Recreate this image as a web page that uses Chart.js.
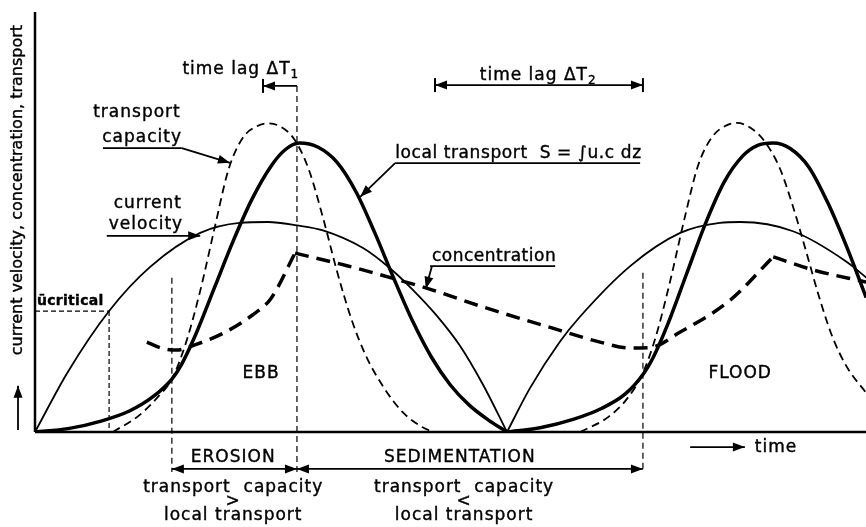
<!DOCTYPE html>
<html>
<head>
<meta charset="utf-8">
<script src="https://cdn.jsdelivr.net/npm/chart.js@4.4.1/dist/chart.umd.min.js"></script>
<style>
  html, body { margin: 0; padding: 0; background: #fff; }
  canvas { display: block; }
</style>
</head>
<body>
<canvas id="grafico" width="866" height="527"></canvas>
<script>
// tiempo: una marea (ebb) = 100 unidades; valores en escala relativa 0-100
const velocityEbb = [[0,0],[6.8,14.0],[15.7,28.8],[24.4,39.3],[35.0,47.4],[43.4,49.8],[49.4,50.0],[55.5,49.2],[61.0,48.0],[69.5,43.8],[75.2,39.0],[80.1,33.8],[85.2,27.6],[90.0,20.6],[94.9,11.3],[100,0]];
const velocityFlood = [[100,0],[104.9,10.5],[111.2,21.5],[115.5,27.5],[126.1,39.5],[136.7,47.4],[145.1,49.8],[149.4,50.0],[160.6,47.8],[172.0,40.5],[176.1,36.8]];

const capacityEbb = [[16.5,0],[22,3.9],[26,8.3],[29,12.6],[32,21.3],[35,33.6],[38,48.3],[41,62.5],[44,70.0],[47,72.8],[49.2,73.5],[52,72.7],[55,69.6],[58,62.5],[61,51.1],[64,38.2],[67,27.0],[70,18.4],[74,10.4],[78,4.6],[82,1.2],[84.3,0]];
const capacityFlood = [[115.5,0],[121.5,3.6],[125.5,8.0],[128.8,14.1],[131.5,22.6],[134.5,35.6],[137.5,50.3],[140.5,63.5],[143.5,70.3],[146.5,73.0],[148.7,73.6],[151.5,72.5],[154.5,69.3],[157.8,62.8],[160.5,54.0],[163.5,42.5],[166.3,31.5],[169,22.5],[172,15.5],[176.1,9.3]];

const transportEbb = [[0,0],[7,0.8],[14,2.6],[20,5.0],[25,8.4],[29,12.6],[31,16.0],[34,23.1],[38,34.3],[42,45.5],[46,55.5],[50,63.3],[53,67.2],[56,68.8],[60,67.8],[64,64.2],[68,57.2],[72,47.4],[76,36.6],[80,26.4],[84,17.8],[88,11.2],[92,6.4],[96,2.9],[100,0]];
const transportFlood = [[100,0],[107,1.0],[114,3.0],[120,5.6],[125,9.0],[129,14.0],[131,17.8],[134,25.5],[138,37.5],[142,49.5],[146,59.5],[150,65.8],[153,68.2],[156.4,68.8],[160,67.5],[164,63.0],[168,54.5],[172,44.0],[176.1,32.0]];

const concentrationRise = [[23.7,21.4],[27,19.9],[30,19.5],[34,20.8],[40,23.6],[46,27.8],[50,31.8],[55.1,42.6]];
const concentrationFall = [[55.1,42.6],[66.1,39.6],[76.7,36.3],[83.1,34.2],[94.3,30.0],[111.2,24.2],[119.7,21.4],[126.1,20.0],[130.3,20.1],[136.7,23.8],[147.3,31.4],[156.4,41.7]];
const concentrationEnd = [[156.4,41.7],[164.8,38.6],[176.1,35.7]];

// momentos y niveles marcados
const uCritical = 28.8;
const tCritical = 15.7;
const tErosionStart = 29.0;
const tTransportPeak = 55.5;
const tCapacityPeak = 48.3;
const tCapacityZero = 84.75;
const tSedimentationEnd = 128.8;
const tMax = 176.06;

const FONT = "'DejaVu Sans', sans-serif";
const toXY = arr => arr.map(([x, y]) => ({ x, y }));

function serie(data, width, dash) {
  return {
    data: toXY(data),
    borderColor: "#000",
    borderWidth: width,
    borderDash: dash || [],
    pointRadius: 0,
    fill: false,
    cubicInterpolationMode: "monotone"
  };
}

const anotaciones = {
  id: "anotaciones",
  afterDatasetsDraw(chart) {
    const ctx = chart.ctx;
    const X = t => chart.scales.x.getPixelForValue(t);
    const Y = v => chart.scales.y.getPixelForValue(v);
    ctx.save();
    ctx.fillStyle = "#000";
    ctx.strokeStyle = "#000";
    ctx.lineCap = "butt";

    function line(t1, v1, t2, v2, w, dash) {
      ctx.beginPath();
      ctx.lineWidth = w;
      ctx.setLineDash(dash || []);
      ctx.moveTo(X(t1), Y(v1));
      ctx.lineTo(X(t2), Y(v2));
      ctx.stroke();
      ctx.setLineDash([]);
    }
    function head(x1, y1, x2, y2) {
      const a = Math.atan2(y2 - y1, x2 - x1), len = 12, h = 4.5;
      ctx.beginPath();
      ctx.moveTo(x2, y2);
      ctx.lineTo(x2 - len * Math.cos(a) + h * Math.sin(a), y2 - len * Math.sin(a) - h * Math.cos(a));
      ctx.lineTo(x2 - len * Math.cos(a) - h * Math.sin(a), y2 - len * Math.sin(a) + h * Math.cos(a));
      ctx.closePath();
      ctx.fill();
    }
    function arrow(t1, v1, t2, v2, both) {
      line(t1, v1, t2, v2, 1.8);
      head(X(t1), Y(v1), X(t2), Y(v2));
      if (both) head(X(t2), Y(v2), X(t1), Y(v1));
    }
    function bar(t, v) {
      ctx.beginPath();
      ctx.lineWidth = 2;
      ctx.moveTo(X(t), Y(v) - 7);
      ctx.lineTo(X(t), Y(v) + 7);
      ctx.stroke();
    }
    // texto con trazo fino para imitar el rotulado grueso
    function paint(str, x, y) {
      ctx.fillText(str, x, y);
      ctx.lineWidth = 0.4;
      ctx.strokeText(str, x, y);
    }
    function text(str, t, v, align, size, spacing, weight) {
      ctx.font = (weight || "normal") + " " + (size || 17) + "px " + FONT;
      ctx.letterSpacing = (spacing === undefined ? 1 : spacing) + "px";
      ctx.textAlign = align || "center";
      ctx.textBaseline = "middle";
      paint(str, X(t), Y(v));
    }
    function textSub(main, sub, t, v) {
      ctx.letterSpacing = "1px";
      ctx.font = "17px " + FONT;
      const w1 = ctx.measureText(main).width;
      ctx.font = "12px " + FONT;
      const w2 = ctx.measureText(sub).width;
      const x0 = X(t) - (w1 + w2) / 2;
      ctx.textAlign = "left";
      ctx.textBaseline = "middle";
      ctx.font = "17px " + FONT;
      paint(main, x0, Y(v));
      ctx.font = "12px " + FONT;
      paint(sub, x0 + w1, Y(v) + 5);
    }

    // ejes
    line(0, 0, 0, 100, 2.5);
    line(0, 0, tMax, 0, 2.5);

    // u crítica
    line(0, uCritical, tCritical, uCritical, 1.2, [5, 3]);
    line(tCritical, uCritical, tCritical, 0, 1.2, [5, 3]);
    text("ūcritical", 0.4, uCritical + 2.4, "left", 14, 0.3, "bold");

    // líneas verticales
    line(tErosionStart, 36.7, tErosionStart, -9.5, 1.2, [6, 4]);
    line(tTransportPeak, 82.4, tTransportPeak, -9.5, 1.2, [6, 4]);
    line(tSedimentationEnd, 37.9, tSedimentationEnd, -9.5, 1.2, [6, 4]);

    // desfases
    textSub("time lag ΔT", "1", 43.6, 86.2);
    arrow(tTransportPeak, 82.4, tCapacityPeak, 82.4);
    bar(tCapacityPeak, 82.4);
    textSub("time lag ΔT", "2", 106.6, 84.8);
    arrow(tCapacityZero, 82.6, tSedimentationEnd, 82.6, true);
    bar(tCapacityZero, 82.6);
    bar(tSedimentationEnd, 82.6);

    // etiquetas de curvas
    text("transport", 21.6, 76.0);
    text("capacity", 22.7, 70.2);
    line(14.4, 67.6, 31.1, 67.6, 1.8);
    arrow(31.1, 67.6, 41.3, 64.1);

    text("current", 23.9, 54.5);
    text("velocity", 23.5, 49.3);
    arrow(15.2, 46.7, 35.0, 46.7);

    text("local transport  S = ∫u.c dz", 76.3, 66.4, "left", 17, 0.6);
    line(76.3, 64.0, 128.2, 64.0, 1.8);
    arrow(76.3, 64.0, 68.9, 56.0);

    text("concentration", 84.1, 41.7, "left", 17, 0.5);
    line(83.7, 39.5, 110.2, 39.5, 1.8);
    arrow(84.1, 39.5, 82.8, 34.1);

    text("EBB", 47.9, 14.0);
    text("FLOOD", 149.4, 14.0);

    // eje de tiempo
    arrow(138.8, -3.6, 150.4, -3.6);
    text("time", 152.5, -3.6, "left");

    // erosión / sedimentación
    arrow(tErosionStart, -8.8, tTransportPeak, -8.8, true);
    arrow(tTransportPeak, -8.8, tSedimentationEnd, -8.8, true);
    text("EROSION", 42.0, -6.0);
    text("SEDIMENTATION", 90.0, -6.0);
    text("transport  capacity", 42.0, -13.3);
    text(">", 42.0, -16.6);
    text("local transport", 42.0, -20.0);
    text("transport  capacity", 90.9, -13.3);
    text("<", 90.9, -16.6);
    text("local transport", 90.9, -20.0);

    // eje y: título y flecha
    arrow(-3.6, 0.5, -3.6, 11.0);
    ctx.save();
    ctx.translate(X(-3.6), Y(57.6));
    ctx.rotate(-Math.PI / 2);
    ctx.font = "16px " + FONT;
    ctx.letterSpacing = "0px";
    ctx.textAlign = "center";
    ctx.textBaseline = "middle";
    paint("current velocity, concentration, transport", 0, 0);
    ctx.restore();

    ctx.restore();
  }
};

new Chart(document.getElementById("grafico"), {
  type: "line",
  data: {
    datasets: [
      serie(velocityEbb, 1.8),
      serie(velocityFlood, 1.8),
      serie(capacityEbb, 1.8, [8, 5]),
      serie(capacityFlood, 1.8, [8, 5]),
      serie(transportEbb, 3.5),
      serie(transportFlood, 3.5),
      serie(concentrationRise, 3.5, [14, 8]),
      serie(concentrationFall, 3.5, [14, 8]),
      serie(concentrationEnd, 3.5, [14, 8])
    ]
  },
  options: {
    responsive: false,
    devicePixelRatio: 1,
    animation: false,
    layout: { padding: { left: 35, right: 0, top: 12, bottom: 95 } },
    plugins: { legend: { display: false }, tooltip: { enabled: false } },
    scales: {
      x: { type: "linear", min: 0, max: tMax, display: false },
      y: { min: 0, max: 100, display: false }
    }
  },
  plugins: [anotaciones]
});
</script>
</body>
</html>
